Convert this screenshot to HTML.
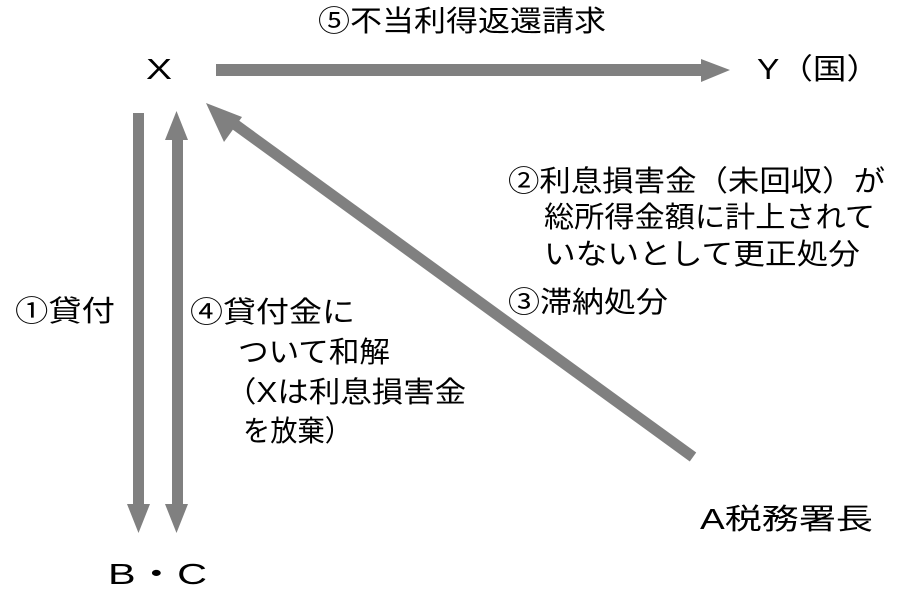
<!DOCTYPE html>
<html><head><meta charset="utf-8"><style>
html,body{margin:0;padding:0;background:#fff;}
svg text{font-family:"Liberation Sans","Noto Sans CJK JP",sans-serif;font-size:29px;fill:#000;dominant-baseline:central;}
</style></head><body>
<svg width="911" height="597" viewBox="0 0 911 597" xmlns="http://www.w3.org/2000/svg">
<g fill="#808080">
<polygon points="216,64 701,64 701,59 730,70 701,82 701,76 216,76"/>
<polygon points="133,113 144,113 144,504 150,504 138.5,533 127,504 133,504"/>
<polygon points="176.5,111 188,140 183,140 183,504 188,504 176.5,533 165,504 172,504 172,140 165,140"/>
</g>
<line x1="693" y1="457" x2="222" y2="115" stroke="#808080" stroke-width="11"/>
<polygon fill="#808080" points="206,103 242,117 224,142"/>

<text x="318" y="22" textLength="288" lengthAdjust="spacingAndGlyphs">⑤不当利得返還請求</text>
<text x="146" y="70" textLength="26" lengthAdjust="spacingAndGlyphs">X</text>
<text x="757" y="70" textLength="123" lengthAdjust="spacingAndGlyphs">Y（国）</text>
<text x="508" y="182" textLength="377" lengthAdjust="spacingAndGlyphs">②利息損害金（未回収）が</text>
<text x="544" y="218" textLength="331" lengthAdjust="spacingAndGlyphs">総所得金額に計上されて</text>
<text x="544" y="255" textLength="316" lengthAdjust="spacingAndGlyphs">いないとして更正処分</text>
<text x="508" y="303" textLength="160" lengthAdjust="spacingAndGlyphs">③滞納処分</text>
<text x="15" y="312" textLength="100" lengthAdjust="spacingAndGlyphs">①貸付</text>
<text x="190" y="313" textLength="165" lengthAdjust="spacingAndGlyphs">④貸付金に</text>
<text x="238" y="353" textLength="152" lengthAdjust="spacingAndGlyphs">ついて和解</text>
<text x="225" y="393" textLength="241" lengthAdjust="spacingAndGlyphs">（Xは利息損害金</text>
<text x="243" y="432" textLength="109" lengthAdjust="spacingAndGlyphs">を放棄）</text>
<text x="700" y="520" textLength="173" lengthAdjust="spacingAndGlyphs">A税務署長</text>
<text x="108" y="575" textLength="99" lengthAdjust="spacingAndGlyphs">B・C</text>
</svg>
</body></html>
